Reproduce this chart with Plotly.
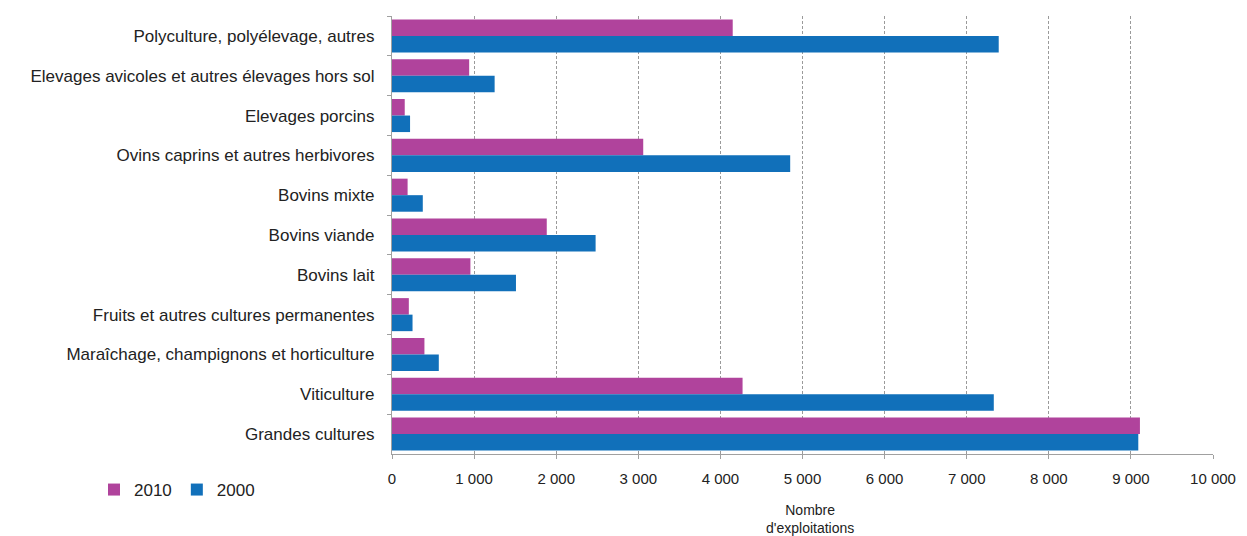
import plotly.graph_objects as go

categories = [
    "Polyculture, polyélevage, autres",
    "Elevages avicoles et autres élevages hors sol",
    "Elevages porcins",
    "Ovins caprins et autres herbivores",
    "Bovins mixte",
    "Bovins viande",
    "Bovins lait",
    "Fruits et autres cultures permanentes",
    "Maraîchage, champignons et horticulture",
    "Viticulture",
    "Grandes cultures",
]
values_2010 = [4150, 940, 155, 3060, 190, 1885, 955, 205, 395, 4270, 9110]
values_2000 = [7390, 1250, 220, 4850, 375, 2480, 1510, 250, 570, 7330, 9090]
tick_vals = [0, 1000, 2000, 3000, 4000, 5000, 6000, 7000, 8000, 9000, 10000]

W, H = 1247, 536
L, R, T, B = 392, 34, 16, 82
pw, ph = W - L - R, H - T - B

def px_x(x):
    return (x - L) / pw

def px_y(y):
    return (H - B - y) / ph

fig = go.Figure()
fig.add_trace(go.Bar(name="2010", y=categories, x=values_2010, orientation="h",
                     marker=dict(color="#B0439C", line=dict(width=0))))
fig.add_trace(go.Bar(name="2000", y=categories, x=values_2000, orientation="h",
                     marker=dict(color="#1170BA", line=dict(width=0))))

fig.update_layout(
    width=W, height=H,
    margin=dict(l=L, r=R, t=T, b=B, autoexpand=False),
    paper_bgcolor="white", plot_bgcolor="white",
    barmode="group", bargap=0.17, bargroupgap=0,
    separators=", ",
    font=dict(family="Liberation Sans, Arial, sans-serif", size=14, color="#222222"),
    showlegend=True,
    legend=dict(orientation="h", x=px_x(94), y=px_y(490), xanchor="left", yanchor="middle",
                font=dict(size=17, color="#222222"), itemwidth=30, tracegroupgap=0,
                bgcolor="rgba(0,0,0,0)"),
    xaxis=dict(range=[0, 10000], tickvals=tick_vals, tickformat=",d",
               showgrid=True, gridcolor="#9a9a9a", griddash="3px,2px", gridwidth=1.3,
               showline=True, linecolor="#a0a0a0", linewidth=1.3,
               ticks="outside", ticklen=4, tickcolor="#a0a0a0", ticklabelstandoff=7,
               tickfont=dict(size=15, color="#222222"), zeroline=False, fixedrange=True),
    yaxis=dict(autorange="reversed", showline=True, linecolor="#a0a0a0", linewidth=1.3,
               ticks="outside", ticklen=4, tickcolor="#a0a0a0", tickson="boundaries",
               ticklabelstandoff=13,
               tickfont=dict(size=17, color="#222222"), showgrid=False),
    annotations=[dict(text="Nombre<br>d'exploitations", x=px_x(810), y=px_y(500),
                      xref="paper", yref="paper", xanchor="center", yanchor="top",
                      showarrow=False, font=dict(size=14, color="#222222"))],
)

fig.write_html("out.html")
